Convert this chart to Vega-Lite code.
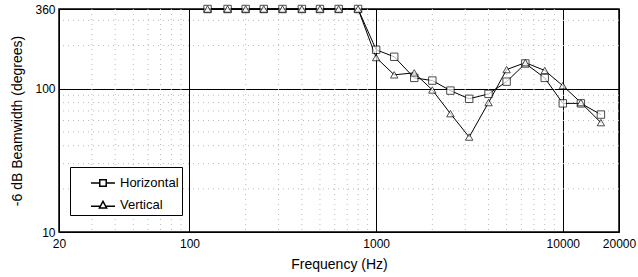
{
  "$schema": "https://vega.github.io/schema/vega-lite/v6.json",
  "width": 560,
  "height": 223,
  "autosize": {"type": "none"},
  "padding": {"left": 59, "top": 9, "right": 19, "bottom": 45},
  "background": "white",
  "config": {
    "font": "Liberation Sans",
    "view": {"stroke": "black", "strokeWidth": 1.5},
    "axis": {"labelFont": "Liberation Sans", "titleFont": "Liberation Sans", "labelColor": "black", "titleColor": "black"}
  },
  "datasets": {
    "beam": [
      {"f": 125, "bw": 360, "series": "Horizontal"},
      {"f": 160, "bw": 360, "series": "Horizontal"},
      {"f": 200, "bw": 360, "series": "Horizontal"},
      {"f": 250, "bw": 360, "series": "Horizontal"},
      {"f": 315, "bw": 360, "series": "Horizontal"},
      {"f": 400, "bw": 360, "series": "Horizontal"},
      {"f": 500, "bw": 360, "series": "Horizontal"},
      {"f": 630, "bw": 360, "series": "Horizontal"},
      {"f": 800, "bw": 360, "series": "Horizontal"},
      {"f": 1000, "bw": 187, "series": "Horizontal"},
      {"f": 1250, "bw": 167, "series": "Horizontal"},
      {"f": 1600, "bw": 119, "series": "Horizontal"},
      {"f": 2000, "bw": 114, "series": "Horizontal"},
      {"f": 2500, "bw": 97, "series": "Horizontal"},
      {"f": 3150, "bw": 85, "series": "Horizontal"},
      {"f": 4000, "bw": 92, "series": "Horizontal"},
      {"f": 5000, "bw": 112, "series": "Horizontal"},
      {"f": 6300, "bw": 150, "series": "Horizontal"},
      {"f": 8000, "bw": 119, "series": "Horizontal"},
      {"f": 10000, "bw": 79, "series": "Horizontal"},
      {"f": 12500, "bw": 79, "series": "Horizontal"},
      {"f": 16000, "bw": 66, "series": "Horizontal"},
      {"f": 125, "bw": 360, "series": "Vertical"},
      {"f": 160, "bw": 360, "series": "Vertical"},
      {"f": 200, "bw": 360, "series": "Vertical"},
      {"f": 250, "bw": 360, "series": "Vertical"},
      {"f": 315, "bw": 360, "series": "Vertical"},
      {"f": 400, "bw": 360, "series": "Vertical"},
      {"f": 500, "bw": 360, "series": "Vertical"},
      {"f": 630, "bw": 360, "series": "Vertical"},
      {"f": 800, "bw": 360, "series": "Vertical"},
      {"f": 1000, "bw": 165, "series": "Vertical"},
      {"f": 1250, "bw": 125, "series": "Vertical"},
      {"f": 1600, "bw": 129, "series": "Vertical"},
      {"f": 2000, "bw": 98, "series": "Vertical"},
      {"f": 2500, "bw": 67, "series": "Vertical"},
      {"f": 3150, "bw": 46, "series": "Vertical"},
      {"f": 4000, "bw": 80, "series": "Vertical"},
      {"f": 5000, "bw": 136, "series": "Vertical"},
      {"f": 6300, "bw": 152, "series": "Vertical"},
      {"f": 8000, "bw": 134, "series": "Vertical"},
      {"f": 10000, "bw": 105, "series": "Vertical"},
      {"f": 12500, "bw": 80, "series": "Vertical"},
      {"f": 16000, "bw": 58, "series": "Vertical"}
    ],
    "ygrid": [{"v": 20}, {"v": 30}, {"v": 40}, {"v": 50}, {"v": 60}, {"v": 70}, {"v": 80}, {"v": 90}, {"v": 200}, {"v": 300}],
    "xgrid": [{"v": 30}, {"v": 40}, {"v": 50}, {"v": 60}, {"v": 70}, {"v": 80}, {"v": 90}, {"v": 200}, {"v": 300}, {"v": 400}, {"v": 500}, {"v": 600}, {"v": 700}, {"v": 800}, {"v": 900}, {"v": 2000}, {"v": 3000}, {"v": 4000}, {"v": 5000}, {"v": 6000}, {"v": 7000}, {"v": 8000}, {"v": 9000}]
  },
  "resolve": {"scale": {"shape": "independent"}, "legend": {"shape": "independent"}},
  "layer": [
    {
      "data": {"name": "ygrid"},
      "mark": {"type": "rule", "color": "#bbbbbb", "strokeWidth": 1, "strokeDash": [1, 4]},
      "encoding": {
        "y": {"field": "v", "type": "quantitative", "scale": {"type": "log", "domain": [10, 360], "nice": false}}
      }
    },
    {
      "data": {"name": "xgrid"},
      "mark": {"type": "rule", "color": "#bbbbbb", "strokeWidth": 1, "strokeDash": [1, 4]},
      "encoding": {
        "x": {"field": "v", "type": "quantitative", "scale": {"type": "log", "domain": [20, 20000], "nice": false}}
      }
    },
    {
      "data": {"name": "beam"},
      "mark": {"type": "line", "color": "black", "strokeWidth": 1},
      "encoding": {
        "x": {"field": "f", "type": "quantitative", "scale": {"type": "log", "domain": [20, 20000], "nice": false},
          "axis": {"values": [20, 100, 1000, 10000, 20000], "grid": true, "gridColor": "black", "gridWidth": 1, "gridOpacity": 1,
            "domain": false, "ticks": false, "labelPadding": 6, "labelFontSize": 12, "labelFlush": false,
            "title": "Frequency (Hz)", "titleFontSize": 14, "titleFontWeight": "normal", "titlePadding": 8, "format": "d"}},
        "y": {"field": "bw", "type": "quantitative", "scale": {"type": "log", "domain": [10, 360], "nice": false},
          "axis": {"values": [10, 100, 360], "grid": true, "gridColor": "black", "gridWidth": 1, "gridOpacity": 1,
            "domain": false, "ticks": false, "labelPadding": 4, "labelFontSize": 12, "labelFlush": false,
            "title": "-6 dB Beamwidth (degrees)", "titleFontSize": 14, "titleFontWeight": "normal", "titlePadding": 10, "format": "d"}},
        "detail": {"field": "series"}
      }
    },
    {
      "data": {"name": "beam"},
      "mark": {"type": "point", "filled": true, "fill": "white", "stroke": "black", "strokeWidth": 1, "size": 55},
      "encoding": {
        "x": {"field": "f", "type": "quantitative"},
        "y": {"field": "bw", "type": "quantitative"},
        "shape": {"field": "series", "type": "nominal",
          "scale": {"domain": ["Horizontal", "Vertical"], "range": ["square", "triangle-up"]},
          "legend": null
        }
      }
    },
    {
      "data": {"name": "beam"},
      "transform": [{"filter": "false"}],
      "mark": {"type": "point", "filled": false, "color": "black", "strokeWidth": 1, "opacity": 1},
      "encoding": {
        "x": {"field": "f", "type": "quantitative"},
        "y": {"field": "bw", "type": "quantitative"},
        "shape": {"field": "series", "type": "nominal",
          "scale": {"domain": ["Horizontal", "Vertical"], "range": ["M-1,0L-0.27,0M0.27,0L1,0M-0.27,-0.27L0.27,-0.27L0.27,0.27L-0.27,0.27Z", "M-1,0.1L-0.22,0.1M0.22,0.1L1,0.1M0,-0.3L0.3,0.24L-0.3,0.24Z"]},
          "legend": {
            "title": null, "orient": "none", "legendX": 11, "legendY": 158,
            "strokeColor": "black", "fillColor": "white", "padding": 3,
            "labelFontSize": 13, "labelColor": "black", "symbolSize": 576, "symbolOffset": 17
          }
        }
      }
    }
  ]
}
